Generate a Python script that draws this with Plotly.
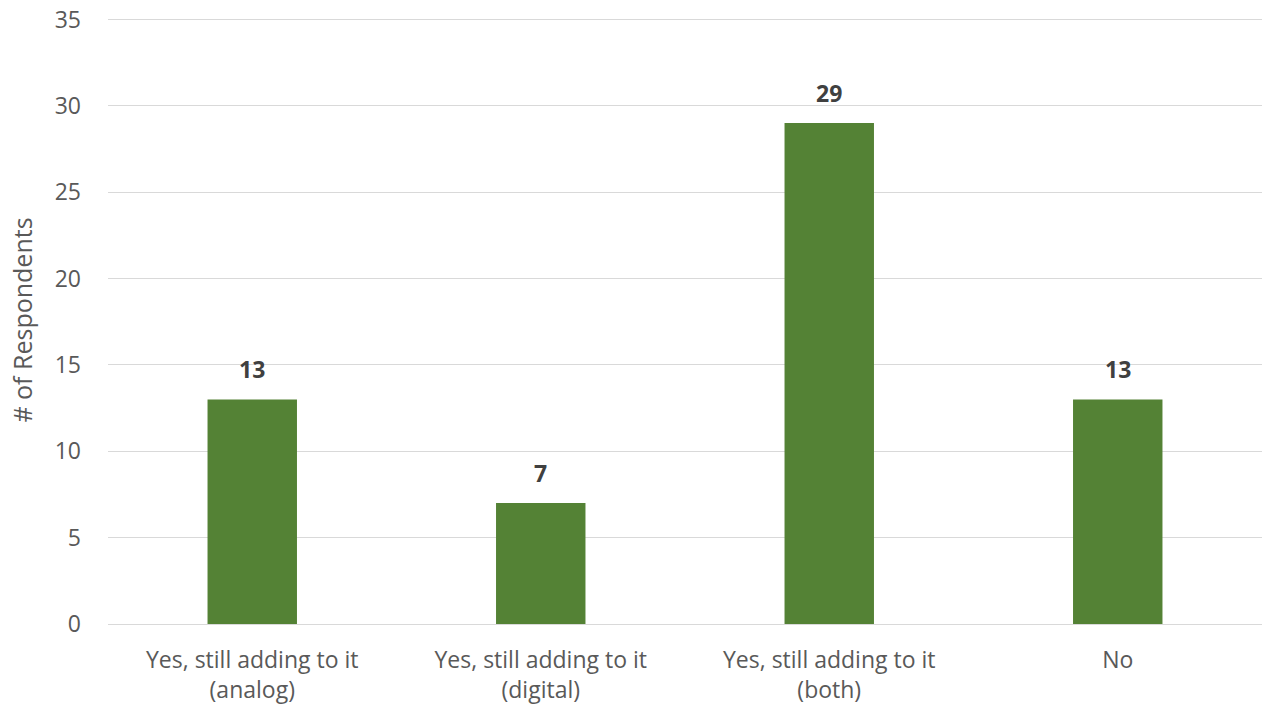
import plotly.graph_objects as go

categories = [
    "Yes, still adding to it<br>(analog)",
    "Yes, still adding to it<br>(digital)",
    "Yes, still adding to it<br>(both)",
    "No",
]
respondents = [13, 7, 29, 13]
y_ticks = [0, 5, 10, 15, 20, 25, 30, 35]

bar_color = "#548235"
text_color = "#595959"
grid_color = "#d9d9d9"
font_family = "Open Sans, DejaVu Sans, sans-serif"

fig = go.Figure()
fig.add_trace(go.Bar(
    x=categories,
    y=respondents,
    marker=dict(color=bar_color, line=dict(width=0)),
    width=0.31,
    hoverinfo="x+y",
))

# value labels above each bar
for cat, val in zip(categories, respondents):
    fig.add_annotation(
        x=cat, y=val, text=f"<b>{val}</b>",
        showarrow=False, yanchor="bottom", yshift=12,
        font=dict(family=font_family, size=23, color="#404040"),
    )

fig.update_layout(
    width=1262, height=708,
    margin=dict(l=108, r=0, t=16, b=84),
    paper_bgcolor="white", plot_bgcolor="white",
    showlegend=False,
    font=dict(family=font_family, size=23, color=text_color),
)
fig.update_xaxes(
    showgrid=False, showline=False, zeroline=False,
    tickfont=dict(size=23, color=text_color),
    ticks="", ticklabelstandoff=20,
)
fig.update_yaxes(
    range=[0, 35.2], tickvals=y_ticks,
    showgrid=True, gridcolor=grid_color, gridwidth=1,
    zeroline=True, zerolinecolor=grid_color, zerolinewidth=1,
    showline=False,
    ticks="", ticklabelstandoff=26,
    tickfont=dict(size=23, color=text_color),
    title=dict(text="# of Respondents", font=dict(size=25, color=text_color), standoff=14),
)

fig.write_html("out.html")
